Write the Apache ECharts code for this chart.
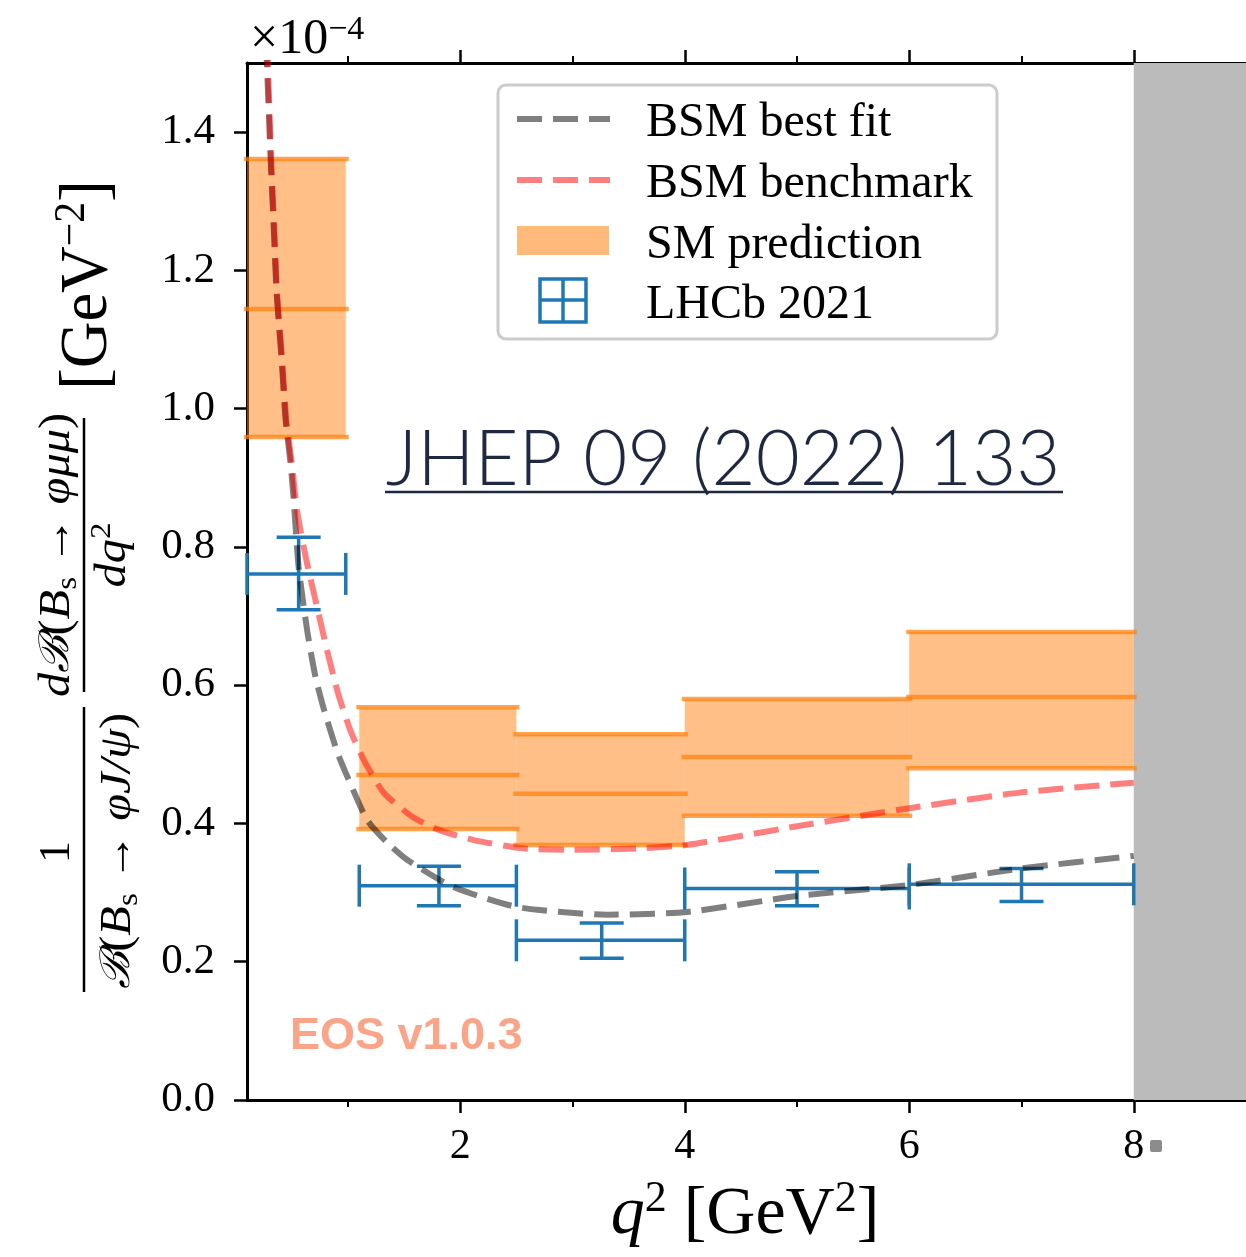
<!DOCTYPE html>
<html>
<head>
<meta charset="utf-8">
<title>Bs to phi mu mu</title>
<script src="https://cdn.jsdelivr.net/npm/echarts@6/dist/echarts.min.js"></script>
<style>
  html, body { margin: 0; padding: 0; background: #ffffff; }
  #chart { width: 1246px; height: 1257px; }
</style>
</head>
<body>
<div id="chart"></div>
<script>
// q^2 bins (GeV^2)
const binLow = [0.1, 1.1, 2.5, 4.0, 6.0];
const binHigh = [0.98, 2.5, 4.0, 6.0, 8.0];

// SM prediction bands (x 1e-4)
const smLower = [0.959, 0.392, 0.369, 0.411, 0.480];
const smCentral = [1.144, 0.470, 0.443, 0.496, 0.583];
const smUpper = [1.361, 0.568, 0.529, 0.580, 0.677];

// LHCb 2021 measurement
const lhcbX = [0.56, 1.81, 3.26, 5.0, 7.0];
const lhcbValue = [0.761, 0.310, 0.231, 0.306, 0.312];
const lhcbErrLow = [0.709, 0.281, 0.205, 0.281, 0.287];
const lhcbErrHigh = [0.814, 0.338, 0.256, 0.330, 0.335];

// BSM best fit curve
const bestFitX = [0.27, 0.311, 0.338, 0.364, 0.409, 0.444, 0.489, 0.516, 0.56, 0.64, 0.71, 0.78, 0.907, 1.02, 1.17, 1.35, 1.53, 1.94, 2.51, 3.31, 4.02, 5.0, 6.0, 7.0, 8.0];
const bestFitY = [1.53, 1.36, 1.263, 1.167, 1.07, 0.984, 0.92, 0.868, 0.771, 0.675, 0.612, 0.568, 0.502, 0.458, 0.405, 0.372, 0.347, 0.308, 0.279, 0.268, 0.272, 0.295, 0.311, 0.335, 0.353];

// BSM benchmark curve
const benchX = [0.28, 0.315, 0.342, 0.368, 0.413, 0.45, 0.50, 0.545, 0.63, 0.73, 0.82, 0.91, 1.02, 1.14, 1.32, 1.58, 1.82, 2.12, 2.56, 3.0, 3.6, 4.02, 5.0, 6.0, 7.0, 8.0];
const benchY = [1.53, 1.36, 1.263, 1.167, 1.07, 0.984, 0.92, 0.853, 0.78, 0.709, 0.646, 0.589, 0.535, 0.492, 0.444, 0.409, 0.39, 0.376, 0.364, 0.362, 0.364, 0.369, 0.396, 0.422, 0.445, 0.459];

// excluded region (grey)
const vetoRange = [8.0, 9.0];

const xMajorTicks = [2, 4, 6, 8];
const xMinorTicks = [1, 3, 5, 7];
const yTicks = [0, 0.2, 0.4, 0.6, 0.8, 1.0, 1.2, 1.4];

const serif = '"Liberation Serif", "DejaVu Serif", serif';
const blue = '#1f77b4';

const chart = echarts.init(document.getElementById('chart'));

const smData = binLow.map((lo, i) => [lo, binHigh[i], smLower[i], smCentral[i], smUpper[i]]);
const lhcbData = lhcbX.map((x, i) => [x, binLow[i], binHigh[i], lhcbValue[i], lhcbErrLow[i], lhcbErrHigh[i]]);

function renderVeto(params, api) {
  const a = api.coord([api.value(0), 1.5]);
  const b = api.coord([api.value(1), 0]);
  return {type: 'rect', shape: {x: a[0], y: a[1], width: b[0] - a[0], height: b[1] - a[1]}, style: {fill: '#bbbbbb'}};
}

function renderSm(params, api) {
  const top = api.coord([api.value(0), api.value(4)]);
  const bot = api.coord([api.value(1), api.value(2)]);
  const mid = api.coord([api.value(0), api.value(3)])[1];
  const x0 = top[0], x1 = bot[0];
  const lineStyle = {stroke: 'rgba(255,127,14,0.72)', lineWidth: 4.5};
  const hl = (y) => ({type: 'line', shape: {x1: x0 - 3, y1: y, x2: x1 + 3, y2: y}, style: lineStyle});
  return {
    type: 'group',
    children: [
      {type: 'rect', shape: {x: x0, y: top[1], width: x1 - x0, height: bot[1] - top[1]}, style: {fill: 'rgba(255,127,14,0.5)'}},
      hl(top[1]), hl(mid), hl(bot[1])
    ]
  };
}

function renderLhcb(params, api) {
  const c = api.coord([api.value(0), api.value(3)]);
  const l = api.coord([api.value(1), api.value(3)]);
  const r = api.coord([api.value(2), api.value(3)]);
  const lo = api.coord([api.value(0), api.value(4)]);
  const hi = api.coord([api.value(0), api.value(5)]);
  const st = {stroke: blue, lineWidth: 3.5};
  const seg = (x1, y1, x2, y2) => ({type: 'line', shape: {x1, y1, x2, y2}, style: st});
  return {
    type: 'group',
    children: [
      seg(l[0], c[1], r[0], c[1]),
      seg(l[0], c[1] - 21, l[0], c[1] + 21),
      seg(r[0], c[1] - 21, r[0], c[1] + 21),
      seg(c[0], hi[1], c[0], lo[1]),
      seg(c[0] - 22, hi[1], c[0] + 22, hi[1]),
      seg(c[0] - 22, lo[1], c[0] + 22, lo[1])
    ]
  };
}

const mathRich = {
  n: {fontFamily: serif, fontSize: 44, lineHeight: 52, color: '#000'},
  it: {fontFamily: serif, fontSize: 44, lineHeight: 52, fontStyle: 'italic', color: '#000'},
  cal: {fontFamily: '"DejaVu Serif", serif', fontSize: 41, lineHeight: 52, fontStyle: 'italic', color: '#000'},
  sub: {fontFamily: serif, fontSize: 30, lineHeight: 30, verticalAlign: 'bottom', color: '#000'},
  sup: {fontFamily: serif, fontSize: 30, lineHeight: 30, verticalAlign: 'top', color: '#000'},
  big: {fontFamily: serif, fontSize: 68, lineHeight: 76, color: '#000'},
  bigsup: {fontFamily: serif, fontSize: 44, lineHeight: 44, verticalAlign: 'top', color: '#000'},
  bigit: {fontFamily: serif, fontSize: 68, lineHeight: 76, fontStyle: 'italic', color: '#000'}
};

function rotText(x, y, text, stretch) {
  return {type: 'text', x: x, y: y, rotation: Math.PI / 2, scaleX: stretch || 1,
    style: {text: text, rich: mathRich, align: 'center', verticalAlign: 'middle'}};
}

const option = {
  animation: false,
  backgroundColor: '#ffffff',
  grid: {left: 247, top: 63, width: 1001, height: 1037, containLabel: false},
  xAxis: [
    {
      type: 'value', position: 'bottom', min: 0.1, max: 9,
      axisLine: {show: true, lineStyle: {color: '#000', width: 3}},
      axisTick: {show: true, length: 13, lineStyle: {color: '#000', width: 2.5}, customValues: xMajorTicks},
      axisLabel: {show: true, customValues: xMajorTicks, margin: 26, fontFamily: serif, fontSize: 42, color: '#000'},
      splitLine: {show: false}
    },
    {
      type: 'value', position: 'bottom', min: 0.1, max: 9,
      axisLine: {show: false},
      axisTick: {show: true, length: 7, lineStyle: {color: '#000', width: 2}, customValues: xMinorTicks},
      axisLabel: {show: false},
      splitLine: {show: false}
    },
    {
      type: 'value', position: 'top', min: 0.1, max: 9,
      axisLine: {show: true, lineStyle: {color: '#000', width: 3}},
      axisTick: {show: true, length: 13, lineStyle: {color: '#000', width: 2.5}, customValues: xMajorTicks},
      axisLabel: {show: false},
      splitLine: {show: false}
    },
    {
      type: 'value', position: 'top', min: 0.1, max: 9,
      axisLine: {show: false},
      axisTick: {show: true, length: 7, lineStyle: {color: '#000', width: 2}, customValues: xMinorTicks},
      axisLabel: {show: false},
      splitLine: {show: false}
    }
  ],
  yAxis: [
    {
      type: 'value', position: 'left', min: 0, max: 1.5,
      axisLine: {show: true, lineStyle: {color: '#000', width: 3}},
      axisTick: {show: true, length: 13, lineStyle: {color: '#000', width: 2.5}, customValues: yTicks},
      axisLabel: {show: true, customValues: yTicks, margin: 32, fontFamily: serif, fontSize: 43, color: '#000',
        formatter: (v) => v.toFixed(1)},
      splitLine: {show: false}
    }
  ],
  series: [
    {
      name: 'veto', type: 'custom', renderItem: renderVeto, data: [vetoRange], z: 1,
      encode: {x: [0, 1]}, silent: true
    },
    {
      name: 'SM prediction', type: 'custom', renderItem: renderSm, data: smData, z: 2,
      encode: {x: [0, 1], y: [2, 3, 4]}
    },
    {
      name: 'LHCb 2021', type: 'custom', renderItem: renderLhcb, data: lhcbData, z: 3,
      encode: {x: [0, 1, 2], y: [3, 4, 5]}
    },
    {
      name: 'BSM best fit', type: 'line', data: bestFitX.map((x, i) => [x, bestFitY[i]]), z: 4,
      symbol: 'none', clip: true, smooth: 0.2,
      lineStyle: {color: 'rgba(0,0,0,0.5)', width: 6, type: [25, 11]}
    },
    {
      name: 'BSM benchmark', type: 'line', data: benchX.map((x, i) => [x, benchY[i]]), z: 5,
      symbol: 'none', clip: true, smooth: 0.2,
      lineStyle: {color: 'rgba(255,0,0,0.5)', width: 6, type: [25, 11]}
    }
  ],
  graphic: [
    // exponent
    {type: 'text', x: 250, y: 40, style: {text: '×10{sup|−4}', rich: {
      sup: {fontFamily: serif, fontSize: 34, lineHeight: 34, verticalAlign: 'top', color: '#000'}},
      fontFamily: serif, fontSize: 50, lineHeight: 54, verticalAlign: 'middle', fill: '#000'}},
    // x axis title
    {type: 'text', x: 745, y: 1215, style: {text: '{bigit|q}{bigsup|2}{big| [GeV}{bigsup|2}{big|]}', rich: mathRich,
      align: 'center', verticalAlign: 'middle'}},
    // y axis title: 1/B(Bs->phi J/psi) * dB/dq2 [GeV^-2]
    rotText(57, 852, '{n|1}'),
    {type: 'line', shape: {x1: 84, y1: 992, x2: 84, y2: 707}, style: {stroke: '#000', lineWidth: 2.5}},
    rotText(118, 851, '{cal|ℬ}{n|(}{it|B}{sub|s}{n| → }{it|φJ/ψ}{n|)}', 1.1),
    rotText(57, 555, '{it|d}{cal|ℬ}{n|(}{it|B}{sub|s}{n| → }{it|φμμ}{n|)}', 1.1),
    {type: 'line', shape: {x1: 84, y1: 692, x2: 84, y2: 418}, style: {stroke: '#000', lineWidth: 2.5}},
    rotText(113, 555, '{it|dq}{sup|2}', 1.1),
    rotText(88, 285, '{big|[GeV}{bigsup|−2}{big|]}', 0.95),
    // reference label
    {type: 'text', x: 723, y: 460, style: {text: 'JHEP 09 (2022) 133', fontFamily: 'Lato, "Open Sans", sans-serif',
      fontWeight: 300, fontSize: 76, fill: '#1e2840', align: 'center', verticalAlign: 'middle'}},
    {type: 'line', shape: {x1: 385, y1: 492, x2: 1063, y2: 492}, style: {stroke: '#1e2840', lineWidth: 2.5}},
    // EOS watermark
    {type: 'text', x: 290, y: 1037, style: {text: 'EOS v1.0.3', fontFamily: '"Liberation Sans", Arial, sans-serif',
      fontWeight: 'bold', fontSize: 45, fill: '#fca487', align: 'left', verticalAlign: 'middle'}},
    // small grey mark next to the last tick label
    {type: 'rect', shape: {x: 1150, y: 1140, width: 12, height: 12, r: 2}, style: {fill: '#8c8c8c'}},
    // legend
    {type: 'rect', shape: {x: 498, y: 85, width: 499, height: 254, r: 8},
      style: {fill: 'rgba(255,255,255,0.85)', stroke: '#cccccc', lineWidth: 3}, z: 10},
    {type: 'line', shape: {x1: 517, y1: 119, x2: 610, y2: 119}, z: 11,
      style: {stroke: 'rgba(0,0,0,0.5)', lineWidth: 6, lineDash: [25, 11]}},
    {type: 'line', shape: {x1: 517, y1: 180, x2: 610, y2: 180}, z: 11,
      style: {stroke: 'rgba(255,0,0,0.5)', lineWidth: 6, lineDash: [25, 11]}},
    {type: 'rect', shape: {x: 517, y: 226, width: 92, height: 29}, z: 11,
      style: {fill: 'rgba(255,127,14,0.55)'}},
    {type: 'rect', shape: {x: 540, y: 279, width: 46, height: 43}, z: 11,
      style: {fill: 'none', stroke: blue, lineWidth: 3.5}},
    {type: 'line', shape: {x1: 563, y1: 279, x2: 563, y2: 322}, z: 11, style: {stroke: blue, lineWidth: 3.5}},
    {type: 'line', shape: {x1: 540, y1: 300, x2: 586, y2: 300}, z: 11, style: {stroke: blue, lineWidth: 3.5}},
    {type: 'text', x: 646, y: 123, z: 11, style: {text: 'BSM best fit', fontFamily: serif, fontSize: 48, fill: '#000', verticalAlign: 'middle'}},
    {type: 'text', x: 646, y: 184, z: 11, style: {text: 'BSM benchmark', fontFamily: serif, fontSize: 48, fill: '#000', verticalAlign: 'middle'}},
    {type: 'text', x: 646, y: 245, z: 11, style: {text: 'SM prediction', fontFamily: serif, fontSize: 48, fill: '#000', verticalAlign: 'middle'}},
    {type: 'text', x: 646, y: 305, z: 11, style: {text: 'LHCb 2021', fontFamily: serif, fontSize: 48, fill: '#000', verticalAlign: 'middle'}}
  ]
};

chart.setOption(option);
</script>
</body>
</html>
